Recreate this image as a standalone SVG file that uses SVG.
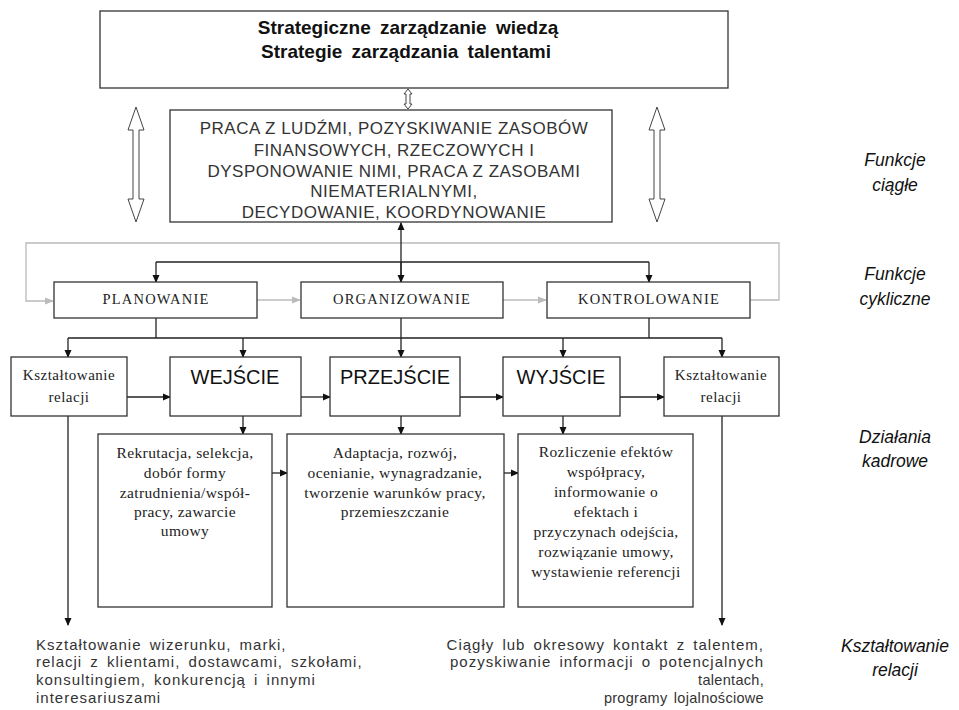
<svg xmlns="http://www.w3.org/2000/svg" width="959" height="710" viewBox="0 0 959 710">
<defs>
<marker id="ab" markerWidth="8" markerHeight="8" refX="7" refY="4" orient="auto" markerUnits="userSpaceOnUse"><path d="M0,0.5 L8,4 L0,7.5 Z" fill="#111"/></marker>
<marker id="ag" markerWidth="9" markerHeight="9" refX="8" refY="4.5" orient="auto" markerUnits="userSpaceOnUse"><path d="M0,1 L9,4.5 L0,8 Z" fill="#bbb"/></marker>
</defs>
<style>
.box{fill:#fff;stroke:#333;stroke-width:1.3}
.c{fill:none;stroke:#222;stroke-width:1.3}
.g{fill:none;stroke:#bbb;stroke-width:1.3}
.hol{fill:#fff;stroke:#444;stroke-width:1}
.tb{font-family:"Liberation Sans",Arial,sans-serif;font-weight:bold;font-size:19px;fill:#111;text-anchor:middle;word-spacing:4px}
.tm{font-family:"Liberation Sans",Arial,sans-serif;font-size:17px;fill:#333;text-anchor:middle;letter-spacing:0.5px}
.ts{font-family:"Liberation Serif","Times New Roman",serif;fill:#222;text-anchor:middle}
.tbig{font-family:"Liberation Sans",Arial,sans-serif;font-size:20px;fill:#111;text-anchor:middle}
.lab{font-family:"Liberation Sans",Arial,sans-serif;font-style:italic;font-size:17.5px;fill:#111;text-anchor:middle}
.bt{font-family:"Liberation Sans",Arial,sans-serif;font-size:15px;fill:#333;letter-spacing:1px;word-spacing:3px}
.bn{font-family:"Liberation Sans",Arial,sans-serif;font-size:14.5px;fill:#333;letter-spacing:0.3px;word-spacing:2px}
</style>
<rect width="959" height="710" fill="#fff"/>

<g id="top">
<rect class="box" x="100" y="11" width="628" height="77"/>
<text class="tb" x="408" y="34">Strategiczne zarządzanie wiedzą</text>
<text class="tb" x="406" y="58">Strategie zarządzania talentami</text>
</g>

<g id="hollow-arrows">
<path class="hol" d="M408,89 L412,94 L410,94 L410,104 L412,104 L408,109 L404,104 L406,104 L406,94 L404,94 Z"/>
<path class="hol" d="M136,107 L144,130 L139,130 L139,199 L144,199 L136,222 L128,199 L133,199 L133,130 L128,130 Z"/>
<path class="hol" d="M657,107 L665,130 L660,130 L660,199 L665,199 L657,222 L649,199 L654,199 L654,130 L649,130 Z"/>
</g>

<g id="middle">
<rect class="box" x="170" y="110" width="442" height="112"/>
<text class="tm" x="394" y="134">PRACA Z LUDŹMI, POZYSKIWANIE ZASOBÓW</text>
<text class="tm" x="394" y="156">FINANSOWYCH, RZECZOWYCH I</text>
<text class="tm" x="394" y="177">DYSPONOWANIE NIMI, PRACA Z ZASOBAMI</text>
<text class="tm" x="394" y="197">NIEMATERIALNYMI,</text>
<text class="tm" x="394" y="218">DECYDOWANIE, KOORDYNOWANIE</text>
</g>

<g id="connectors">
<path class="g" d="M750,300 L779,300 L779,243 L26,243 L26,301 L53,301" marker-end="url(#ag)"/>
<path class="g" d="M257,300 L300,300" marker-end="url(#ag)"/>
<path class="g" d="M503,300 L546,300" marker-end="url(#ag)"/>
<path class="c" d="M401,282 L401,223" marker-end="url(#ab)"/>
<path class="c" d="M401,262 L401,282" marker-end="url(#ab)"/>
<path class="c" d="M156,262 L649,262"/>
<path class="c" d="M156,262 L156,282" marker-end="url(#ab)"/>
<path class="c" d="M649,262 L649,282" marker-end="url(#ab)"/>
<path class="c" d="M156,318 L156,338 M649,318 L649,338 M68,338 L722,338"/>
<path class="c" d="M68,338 L68,357" marker-end="url(#ab)"/>
<path class="c" d="M243,338 L243,357" marker-end="url(#ab)"/>
<path class="c" d="M401,318 L401,357" marker-end="url(#ab)"/>
<path class="c" d="M563,338 L563,357" marker-end="url(#ab)"/>
<path class="c" d="M722,338 L722,357" marker-end="url(#ab)"/>
<path class="c" d="M127,397 L170,397" marker-end="url(#ab)"/>
<path class="c" d="M301,397 L330,397" marker-end="url(#ab)"/>
<path class="c" d="M460,397 L503,397" marker-end="url(#ab)"/>
<path class="c" d="M620,397 L664,397" marker-end="url(#ab)"/>
<path class="c" d="M243,416 L243,434" marker-end="url(#ab)"/>
<path class="c" d="M401,416 L401,434" marker-end="url(#ab)"/>
<path class="c" d="M563,416 L563,434" marker-end="url(#ab)"/>
<path class="c" d="M272,473 L287,473" marker-end="url(#ab)"/>
<path class="c" d="M504,473 L518,473" marker-end="url(#ab)"/>
<path class="c" d="M68,416 L68,625" marker-end="url(#ab)"/>
<path class="c" d="M722,416 L722,625" marker-end="url(#ab)"/>
</g>

<g id="planowanie">
<rect class="box" x="54" y="282" width="203" height="36"/>
<text class="ts" x="156" y="304" font-size="14.5" letter-spacing="1.2">PLANOWANIE</text>
</g>
<g id="organizowanie">
<rect class="box" x="301" y="282" width="202" height="36"/>
<text class="ts" x="402" y="304" font-size="14.5" letter-spacing="1.2">ORGANIZOWANIE</text>
</g>
<g id="kontrolowanie">
<rect class="box" x="547" y="282" width="203" height="36"/>
<text class="ts" x="649" y="304" font-size="14.5" letter-spacing="1.2">KONTROLOWANIE</text>
</g>

<g id="ksztaltowanie-left">
<rect class="box" x="11" y="357" width="116" height="59"/>
<text class="ts" x="69" y="380" font-size="15" letter-spacing="0.5">Kształtowanie</text>
<text class="ts" x="69" y="402" font-size="15" letter-spacing="0.5">relacji</text>
</g>
<g id="wejscie">
<rect class="box" x="170" y="357" width="131" height="59"/>
<text class="tbig" x="235" y="384">WEJŚCIE</text>
</g>
<g id="przejscie">
<rect class="box" x="330" y="357" width="130" height="59"/>
<text class="tbig" x="395" y="384">PRZEJŚCIE</text>
</g>
<g id="wyjscie">
<rect class="box" x="503" y="357" width="117" height="59"/>
<text class="tbig" x="561" y="384">WYJŚCIE</text>
</g>
<g id="ksztaltowanie-right">
<rect class="box" x="664" y="357" width="115" height="59"/>
<text class="ts" x="721" y="380" font-size="15" letter-spacing="0.5">Kształtowanie</text>
<text class="ts" x="721" y="402" font-size="15" letter-spacing="0.5">relacji</text>
</g>

<g id="rekrutacja">
<rect class="box" x="98" y="434" width="174" height="173"/>
<text class="ts" font-size="15.5" letter-spacing="0.4" x="185" y="458">Rekrutacja, selekcja,</text>
<text class="ts" font-size="15.5" letter-spacing="0.4" x="185" y="478">dobór formy</text>
<text class="ts" font-size="15.5" letter-spacing="0.4" x="185" y="498">zatrudnienia/współ-</text>
<text class="ts" font-size="15.5" letter-spacing="0.4" x="185" y="517">pracy, zawarcie</text>
<text class="ts" font-size="15.5" letter-spacing="0.4" x="185" y="536">umowy</text>
</g>
<g id="adaptacja">
<rect class="box" x="287" y="434" width="217" height="173"/>
<text class="ts" font-size="15.5" letter-spacing="0.4" x="395" y="458">Adaptacja, rozwój,</text>
<text class="ts" font-size="15.5" letter-spacing="0.4" x="395" y="478">ocenianie, wynagradzanie,</text>
<text class="ts" font-size="15.5" letter-spacing="0.4" x="395" y="498">tworzenie warunków pracy,</text>
<text class="ts" font-size="15.5" letter-spacing="0.4" x="395" y="517">przemieszczanie</text>
</g>
<g id="rozliczenie">
<rect class="box" x="518" y="434" width="175" height="173"/>
<text class="ts" font-size="15.5" letter-spacing="0.4" x="606" y="457">Rozliczenie efektów</text>
<text class="ts" font-size="15.5" letter-spacing="0.4" x="606" y="477">współpracy,</text>
<text class="ts" font-size="15.5" letter-spacing="0.4" x="606" y="497">informowanie o</text>
<text class="ts" font-size="15.5" letter-spacing="0.4" x="606" y="517">efektach i</text>
<text class="ts" font-size="15.5" letter-spacing="0.4" x="606" y="537">przyczynach odejścia,</text>
<text class="ts" font-size="15.5" letter-spacing="0.4" x="606" y="557">rozwiązanie umowy,</text>
<text class="ts" font-size="15.5" letter-spacing="0.4" x="606" y="577">wystawienie referencji</text>
</g>

<g id="bottom-left-text">
<text class="bt" x="36" y="650">Kształtowanie wizerunku, marki,</text>
<text class="bt" x="36" y="667">relacji z klientami, dostawcami, szkołami,</text>
<text class="bt" x="36" y="685">konsultingiem, konkurencją i innymi</text>
<text class="bt" x="36" y="703">interesariuszami</text>
</g>
<g id="bottom-right-text">
<text class="bt" x="764" y="650" text-anchor="end">Ciągły lub okresowy kontakt z talentem,</text>
<text class="bt" x="764" y="667" text-anchor="end">pozyskiwanie informacji o potencjalnych</text>
<text class="bn" x="764" y="685" text-anchor="end">talentach,</text>
<text class="bn" x="764" y="703" text-anchor="end">programy lojalnościowe</text>
</g>

<g id="labels">
<text class="lab" x="895" y="166">Funkcje</text>
<text class="lab" x="895" y="191">ciągłe</text>
<text class="lab" x="895" y="280">Funkcje</text>
<text class="lab" x="895" y="305">cykliczne</text>
<text class="lab" x="895" y="443">Działania</text>
<text class="lab" x="895" y="467">kadrowe</text>
<text class="lab" x="895" y="652">Kształtowanie</text>
<text class="lab" x="895" y="676">relacji</text>
</g>
</svg>
